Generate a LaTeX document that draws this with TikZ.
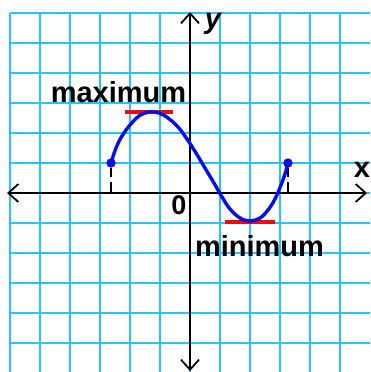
\documentclass[tikz,border=0pt]{standalone}
\usepackage{fontspec}
\setmainfont{Liberation Sans}
\usetikzlibrary{arrows.meta}
\definecolor{gridblue}{RGB}{40,195,250}
\definecolor{curveblue}{RGB}{5,15,225}
\definecolor{markred}{RGB}{235,10,10}
\tikzset{
  gridline/.style={draw=gridblue, line width=1.8pt},
  axisline/.style={draw=black, line width=1.3pt,
    {Straight Barb[length=10pt,width=18pt,line width=1.8pt]}-{Straight Barb[length=10pt,width=18pt,line width=1.8pt]}},
  enddot/.style={circle, fill=curveblue, inner sep=0pt, minimum size=9pt},
  curveline/.style={draw=curveblue, line width=3.4pt, line cap=round},
  extreme/.style={draw=markred, line width=3.5pt},
  tickline/.style={draw=black, line width=1.2pt, dash pattern=on 11pt off 5pt},
  bigword/.style={font=\bfseries\fontsize{29}{29}\selectfont, inner sep=0pt, anchor=base},
  axislabel/.style={font=\bfseries\fontsize{29}{29}\selectfont, inner sep=0pt, anchor=base}
}
\begin{document}
\begin{tikzpicture}[x=1pt,y=-1pt]
\useasboundingbox (0,0) rectangle (370,372);
\fill[white] (0,0) rectangle (370,372);
% grid
\foreach \i in {0,...,11} {
  \draw[gridline] (10+30*\i,13) -- (10+30*\i,372);
}
\foreach \j in {0,...,11} {
  \draw[gridline] (10,13+30*\j) -- (370,13+30*\j);
}
% axes
\coordinate (xl) at (7,193);
\coordinate (xr) at (367,193);
\coordinate (yt) at (190,12);
\coordinate (yb) at (190,371);
\draw[axisline] (xl) -- (xr);
\draw[axisline] (yb) -- (yt);
% dots and ticks
\node[enddot] (L) at (111,163) {};
\node[enddot] (R) at (288,163) {};
\coordinate (Lb) at (111,193);
\coordinate (Rb) at (288,193);
\draw[tickline] (Lb) -- (L);
\draw[tickline] (Rb) -- (R);
% extreme marks
\coordinate (maxa) at (125,112);
\coordinate (maxb) at (173,112);
\coordinate (mina) at (225,222);
\coordinate (minb) at (275,222);
\draw[extreme] (maxa) -- (maxb);
\draw[extreme] (mina) -- (minb);
% curve
\draw[curveline] plot[smooth, tension=0.6] coordinates {
 (111,163) (116,148) (122,136) (130,125) (139,116) (149,112) (159,113)
 (168,118) (178,127) (187,139) (196,153) (205,168) (214,183) (222,197)
 (230,209) (240,218) (250,221) (260,218) (268,210) (275,199) (281,185)
 (285,174) (288,163)};
\node[enddot] at (L) {};
\node[enddot] at (R) {};
% labels
\node[bigword] (maxlab) at (118.5,102) {maximum};
\node[bigword] (minlab) at (259.5,256) {minimum};
\node[axislabel, font=\bfseries\fontsize{27}{27}\selectfont] (zero) at (179,214) {0};
\node[axislabel, font=\bfseries\itshape\fontsize{29}{29}\selectfont] (ylab) at (213,28) {y};
\node[axislabel] (xlab) at (362,177) {x};
\end{tikzpicture}
\end{document}
